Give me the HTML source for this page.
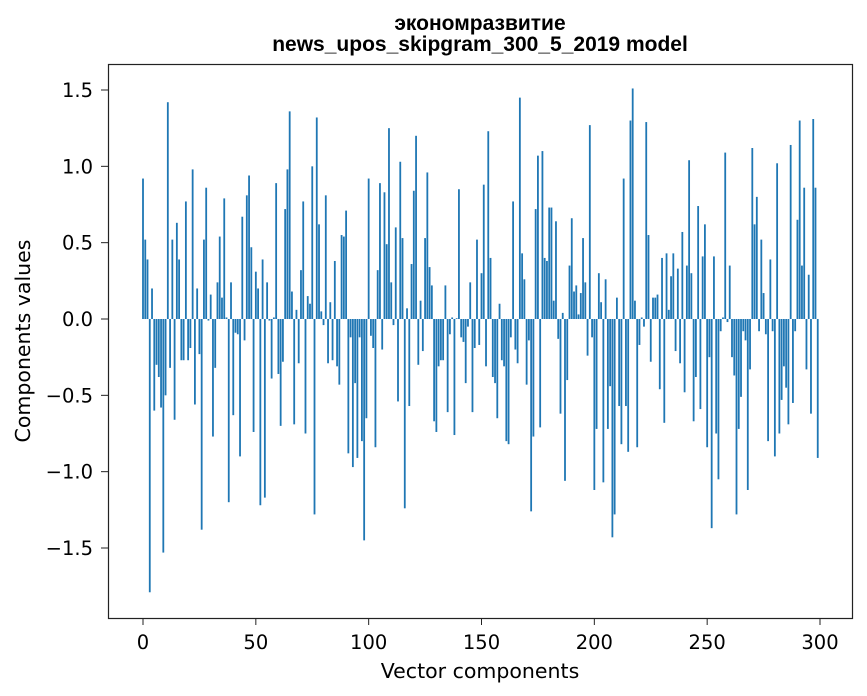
<!DOCTYPE html>
<html><head><meta charset="utf-8"><style>
html,body{margin:0;padding:0;background:#fff;}
svg{display:block;font-family:"DejaVu Sans","Liberation Sans",sans-serif;}
</style></head><body>
<svg id="chart" width="867" height="696" viewBox="0 0 867 696">
<text x="480" y="30" text-anchor="middle" font-size="21" font-weight="bold" font-family="Liberation Sans, sans-serif">экономразвитие</text>
<text x="480" y="51" text-anchor="middle" font-size="21" font-weight="bold" font-family="Liberation Sans, sans-serif">news_upos_skipgram_300_5_2019 model</text>
<g id="bars"></g>
<g id="xaxis"></g>
<g id="yaxis"></g>
<rect x="108.5" y="64.5" width="744" height="554" fill="none" stroke="#222" stroke-width="1.2"/>
<text x="480" y="678" text-anchor="middle" font-size="20.5">Vector components</text>
<text transform="translate(30,341) rotate(-90)" text-anchor="middle" font-size="20.5">Components values</text>
</svg>
<script>
const values = [0.92,0.52,0.39,-1.79,0.20,-0.60,-0.30,-0.38,-0.58,-1.53,
-0.50,1.42,-0.32,0.52,-0.66,0.63,0.39,-0.27,-0.27,0.77,
-0.27,-0.19,0.98,-0.56,0.20,-0.23,-1.38,0.52,0.86,-0.01,
0.16,-0.77,-0.32,0.24,0.54,0.14,0.79,0.01,-1.20,0.24,
-0.63,-0.09,-0.10,-0.90,0.67,-0.14,0.81,0.94,0.47,-0.74,
0.31,0.20,-1.22,0.39,-1.17,0.24,-0.01,-0.39,0.01,0.89,
-0.36,-0.70,-0.28,0.72,0.98,1.36,0.18,-0.69,0.06,-0.29,
0.32,0.77,-0.75,0.15,0.10,1.00,-1.28,1.32,0.62,0.05,
-0.04,0.81,-0.29,0.11,-0.27,0.38,-0.31,-0.43,0.55,0.54,
0.71,-0.88,-0.12,-0.97,-0.42,-0.91,-0.12,-0.80,-1.45,-0.65,
0.92,-0.11,-0.19,-0.84,0.32,0.89,-0.20,0.83,0.49,1.25,
0.24,-0.04,0.60,-0.54,1.03,0.53,-1.24,0.07,-0.57,0.36,
0.84,1.20,-0.30,0.12,-0.21,0.53,0.96,0.34,0.22,-0.67,
-0.74,-0.31,-0.27,-0.27,0.22,-0.61,-0.10,0.01,-0.76,0.005,
0.85,-0.12,-0.15,-0.42,-0.05,0.24,-0.61,-0.19,0.52,-0.17,
0.30,0.88,-0.31,1.23,0.40,-0.38,-0.42,-0.65,0.10,-0.27,
-0.31,-0.80,-0.82,-0.12,0.77,-0.20,-0.29,1.45,0.43,0.26,
-0.43,-0.14,-1.26,-0.77,0.72,1.07,-0.71,1.10,0.40,0.38,
0.73,0.73,0.12,0.64,-0.13,-0.62,0.04,-1.06,-0.40,0.35,
0.66,0.18,0.22,0.03,0.17,0.53,0.24,-0.24,1.27,-0.12,
-1.12,-0.72,0.30,0.11,-1.07,0.26,-0.72,-0.44,-1.43,-1.28,
0.14,-0.57,-0.82,0.92,-0.57,-0.87,1.30,1.51,0.12,-0.84,
-0.17,0.01,-0.05,1.29,0.55,-0.28,0.14,0.14,0.16,-0.46,
0.40,-0.68,0.43,0.06,0.28,0.43,-0.21,0.33,-0.29,0.57,
-0.48,0.35,1.04,0.30,-0.67,-0.38,0.74,-0.59,0.41,0.62,
-0.84,-0.25,-1.37,0.41,-0.75,-1.05,-0.08,0.01,1.09,-0.02,
0.35,-0.25,-0.37,-1.28,-0.72,-0.51,-0.08,-0.14,-1.12,-0.33,
1.12,0.62,0.80,-0.08,0.52,0.17,-0.10,-0.80,0.39,-0.08,
-0.90,1.02,-0.75,-0.53,-0.31,-0.45,-0.69,1.14,-0.55,-0.08,
0.65,1.30,0.35,0.86,-0.33,0.29,-0.62,1.31,0.86,-0.91];
const xTicks = [0,50,100,150,200,250,300];
const yTicks = [-1.5,-1.0,-0.5,0.0,0.5,1.0,1.5];
const yTickLabels = ["\u22121.5","\u22121.0","\u22120.5","0.0","0.5","1.0","1.5"];

const NS="http://www.w3.org/2000/svg";
const xs = v => 143 + v*(677/300);
const ys = v => 319 - v*(229/1.5);
const bars=document.getElementById('bars');
values.forEach((v,i)=>{
  const r=document.createElementNS(NS,'rect');
  const w=0.8*(677/300);
  r.setAttribute('x',xs(i)-w/2);
  r.setAttribute('width',w);
  r.setAttribute('y',Math.min(ys(v),ys(0)));
  r.setAttribute('height',Math.abs(ys(v)-ys(0)));
  r.setAttribute('fill','#1f77b4');
  
  
  bars.appendChild(r);
});
const xa=document.getElementById('xaxis');
xTicks.forEach(t=>{
  const l=document.createElementNS(NS,'line');
  l.setAttribute('x1',xs(t));l.setAttribute('x2',xs(t));
  l.setAttribute('y1',618);l.setAttribute('y2',625);
  l.setAttribute('stroke','#222');
  
  
  xa.appendChild(l);
  const tx=document.createElementNS(NS,'text');
  tx.setAttribute('x',xs(t));tx.setAttribute('y',649);
  tx.setAttribute('text-anchor','middle');tx.setAttribute('font-size','19.5');
  tx.textContent=t;
  
  
  xa.appendChild(tx);
});
const ya=document.getElementById('yaxis');
yTicks.forEach((t,k)=>{
  const l=document.createElementNS(NS,'line');
  l.setAttribute('x1',101);l.setAttribute('x2',108);
  l.setAttribute('y1',ys(t));l.setAttribute('y2',ys(t));
  l.setAttribute('stroke','#222');
  
  
  ya.appendChild(l);
  const tx=document.createElementNS(NS,'text');
  tx.setAttribute('x',93);tx.setAttribute('y',ys(t)+7);
  tx.setAttribute('text-anchor','end');tx.setAttribute('font-size','19.5');
  tx.textContent=yTickLabels[k];
  
  
  ya.appendChild(tx);
});
</script>
</body></html>
